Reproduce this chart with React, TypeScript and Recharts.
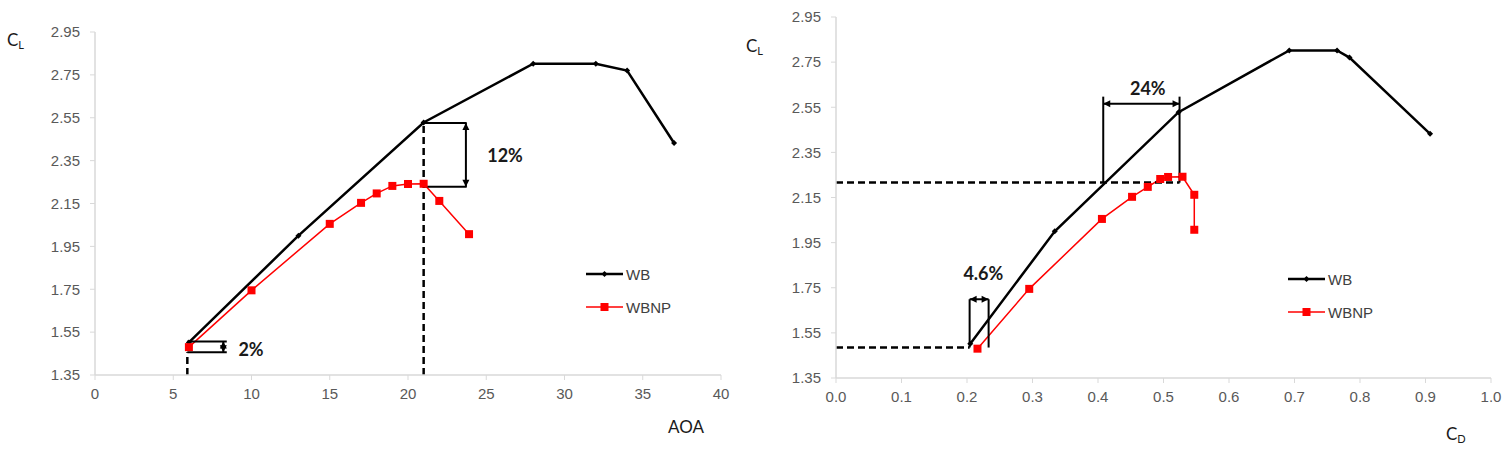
import React from "react";
import { LineChart, Line, XAxis, YAxis, ReferenceLine, ReferenceDot, Legend } from "recharts";

// lift coefficient axis (shared by both panels)
const clTicks = [1.35, 1.55, 1.75, 1.95, 2.15, 2.35, 2.55, 2.75, 2.95];
const aoaTicks = [0, 5, 10, 15, 20, 25, 30, 35, 40];
const cdTicks = [0, 0.1, 0.2, 0.3, 0.4, 0.5, 0.6, 0.7, 0.8, 0.9, 1.0];

// WB (wing-body)
const wbAoa = [6, 13, 21, 28, 32, 34, 37];
const wbCd = [0.205, 0.334, 0.523, 0.692, 0.765, 0.784, 0.907];
const wbCl = [1.502, 2.0, 2.528, 2.802, 2.802, 2.77, 2.432];

// WBNP
const wbnpAoa = [6, 10, 15, 17, 18, 19, 20, 21, 22, 23.9];
const wbnpCd = [0.216, 0.295, 0.406, 0.452, 0.476, 0.495, 0.507, 0.529, 0.547, 0.547];
const wbnpCl = [1.48, 1.745, 2.055, 2.153, 2.197, 2.232, 2.241, 2.242, 2.162, 2.007];

// annotations, in data units
const aoaStallGap = { x: 21, top: 2.525, bottom: 2.228, end: 23.75, arrowX: 23.7, labelX: 26.2, labelY: 2.376 };
const aoaLowGap = { x: 5.9, top: 1.506, bottom: 1.456, end: 8.42, arrowX: 8.2, labelX: 9.97, labelY: 1.471 };
const cdHighGap = { y: 2.216, left: 0.408, right: 0.5245, top: 2.597, arrowY: 2.565, labelX: 0.476, labelY: 2.635 };
const cdLowGap = { y: 1.485, left: 0.204, right: 0.233, top: 1.699, labelX: 0.225, labelY: 1.816 };

const FONT = "'Liberation Sans', Arial, sans-serif";
const CAL = "Lato, 'Open Sans', sans-serif";
const AXIS_GREY = "#d9d9d9";
const TICK_TEXT = "#595959";

const toRows = (xs: number[], ys: number[]) => xs.map((x, i) => ({ x, y: ys[i] }));

const DiamondDot = (props: any) => {
  const { cx, cy, index } = props;
  if (cx == null || cy == null) return <g key={index} />;
  const r = 3;
  return (
    <polygon
      key={index}
      points={`${cx},${cy - r} ${cx + r},${cy} ${cx},${cy + r} ${cx - r},${cy}`}
      fill="#000"
    />
  );
};

const SquareDot = (props: any) => {
  const { cx, cy, index } = props;
  if (cx == null || cy == null) return <g key={index} />;
  return <rect key={index} x={cx - 4} y={cy - 4} width={8} height={8} fill="#ff0000" />;
};

const DoubleArrow = (props: any) => {
  const { x1, y1, x2, y2 } = props;
  const a = Math.atan2(y2 - y1, x2 - x1);
  const L = 7;
  const W = 3.5;
  const head = (x: number, y: number, ang: number) => {
    const bx = x - L * Math.cos(ang);
    const by = y - L * Math.sin(ang);
    const px = W * Math.sin(ang);
    const py = -W * Math.cos(ang);
    return `${x},${y} ${bx + px},${by + py} ${bx - px},${by - py}`;
  };
  return (
    <g>
      <line x1={x1} y1={y1} x2={x2} y2={y2} stroke="#000" strokeWidth={2} />
      <polygon points={head(x2, y2, a)} fill="#000" />
      <polygon points={head(x1, y1, a + Math.PI)} fill="#000" />
    </g>
  );
};

const pctLabel = (text: string) => (props: any) => {
  const vb = props.viewBox || {};
  const cx = (vb.x ?? 0) + (vb.width ?? 0) / 2;
  const cy = (vb.y ?? 0) + (vb.height ?? 0) / 2;
  return (
    <text x={cx} y={cy} textAnchor="middle" dominantBaseline="central" fontFamily={CAL} fontWeight={700} fontSize={18} fill="#1a1a1a">
      {text}
    </text>
  );
};

const LegendBox = () => (
  <div style={{ fontFamily: FONT, fontSize: 15, color: "#404040" }}>
    <div style={{ display: "flex", alignItems: "center", height: 20 }}>
      <svg width={38} height={10}>
        <line x1={0} y1={5} x2={37} y2={5} stroke="#000" strokeWidth={2.5} />
        <polygon points="18.5,2 21.5,5 18.5,8 15.5,5" fill="#000" />
      </svg>
      <span style={{ marginLeft: 2 }}>WB</span>
    </div>
    <div style={{ display: "flex", alignItems: "center", height: 20, marginTop: 13 }}>
      <svg width={38} height={10}>
        <line x1={0} y1={5} x2={37} y2={5} stroke="#ff0000" strokeWidth={1.5} />
        <rect x={14.5} y={1} width={8} height={8} fill="#ff0000" />
      </svg>
      <span style={{ marginLeft: 2 }}>WBNP</span>
    </div>
  </div>
);

const tickStyle = { fill: TICK_TEXT, fontSize: 15, fontFamily: FONT };
const dashed = { stroke: "#000", strokeWidth: 2.5, strokeDasharray: "7 4" };
const solid = { stroke: "#000", strokeWidth: 2 };

function AoaPanel() {
  const wb = toRows(wbAoa, wbCl);
  const wbnp = toRows(wbnpAoa, wbnpCl);
  const g = aoaStallGap;
  const s = aoaLowGap;
  return (
    <LineChart width={740} height={452} margin={{ top: 32, right: 19, left: 0, bottom: 47 }}>
      <XAxis
        type="number"
        dataKey="x"
        domain={[0, 40]}
        ticks={aoaTicks}
        tick={tickStyle}
        tickSize={5}
        tickMargin={8}
        height={30}
        axisLine={{ stroke: AXIS_GREY, strokeWidth: 1.5 }}
        tickLine={{ stroke: AXIS_GREY }}
      />
      <YAxis
        type="number"
        dataKey="y"
        domain={[1.35, 2.95]}
        ticks={clTicks}
        tick={tickStyle}
        tickFormatter={(v: number) => v.toFixed(2)}
        tickSize={5}
        tickMargin={10}
        width={95}
        axisLine={{ stroke: AXIS_GREY, strokeWidth: 1.5 }}
        tickLine={{ stroke: AXIS_GREY }}
      />
      <Line data={wb} dataKey="y" name="WB" stroke="#000" strokeWidth={2.5} dot={DiamondDot} isAnimationActive={false} />
      <Line data={wbnp} dataKey="y" name="WBNP" stroke="#ff0000" strokeWidth={1.5} dot={SquareDot} isAnimationActive={false} />

      <ReferenceLine segment={[{ x: g.x, y: 1.35 }, { x: g.x, y: g.top }]} {...dashed} />
      <ReferenceLine segment={[{ x: g.x, y: g.top }, { x: g.end, y: g.top }]} {...solid} />
      <ReferenceLine segment={[{ x: g.x, y: g.bottom }, { x: g.end, y: g.bottom }]} {...solid} />
      <ReferenceLine segment={[{ x: g.arrowX, y: g.top }, { x: g.arrowX, y: g.bottom }]} shape={DoubleArrow} />
      <ReferenceDot x={g.labelX} y={g.labelY} r={1} fill="none" stroke="none" label={{ content: pctLabel("12%") }} />

      <ReferenceLine segment={[{ x: s.x, y: 1.35 }, { x: s.x, y: s.bottom }]} {...dashed} />
      <ReferenceLine segment={[{ x: s.x, y: s.top }, { x: s.end, y: s.top }]} {...solid} />
      <ReferenceLine segment={[{ x: s.x, y: s.bottom }, { x: s.end, y: s.bottom }]} {...solid} />
      <ReferenceLine segment={[{ x: s.arrowX, y: s.top }, { x: s.arrowX, y: s.bottom }]} shape={DoubleArrow} />
      <ReferenceDot x={s.labelX} y={s.labelY} r={1} fill="none" stroke="none" label={{ content: pctLabel("2%") }} />

      <Legend
        layout="vertical"
        align="center"
        verticalAlign="middle"
        content={() => <LegendBox />}
        wrapperStyle={{ left: 586, top: 264, width: "auto" }}
      />
    </LineChart>
  );
}

function CdPanel() {
  const wb = toRows(wbCd, wbCl);
  const wbnp = toRows(wbnpCd, wbnpCl);
  const g = cdHighGap;
  const s = cdLowGap;
  return (
    <LineChart width={769} height={452} margin={{ top: 17, right: 18, left: 0, bottom: 44 }}>
      <XAxis
        type="number"
        dataKey="x"
        domain={[0, 1]}
        ticks={cdTicks}
        tick={tickStyle}
        tickFormatter={(v: number) => v.toFixed(1)}
        tickSize={5}
        tickMargin={8}
        height={30}
        axisLine={{ stroke: AXIS_GREY, strokeWidth: 1.5 }}
        tickLine={{ stroke: AXIS_GREY }}
      />
      <YAxis
        type="number"
        dataKey="y"
        domain={[1.35, 2.95]}
        ticks={clTicks}
        tick={tickStyle}
        tickFormatter={(v: number) => v.toFixed(2)}
        tickSize={5}
        tickMargin={10}
        width={96}
        axisLine={{ stroke: AXIS_GREY, strokeWidth: 1.5 }}
        tickLine={{ stroke: AXIS_GREY }}
      />
      <Line data={wb} dataKey="y" name="WB" stroke="#000" strokeWidth={2.5} dot={DiamondDot} isAnimationActive={false} />
      <Line data={wbnp} dataKey="y" name="WBNP" stroke="#ff0000" strokeWidth={1.5} dot={SquareDot} isAnimationActive={false} />

      <ReferenceLine segment={[{ x: 0, y: g.y }, { x: g.right, y: g.y }]} {...dashed} />
      <ReferenceLine segment={[{ x: g.left, y: g.y }, { x: g.left, y: g.top }]} {...solid} />
      <ReferenceLine segment={[{ x: g.right, y: g.y }, { x: g.right, y: g.top }]} {...solid} />
      <ReferenceLine segment={[{ x: g.left, y: g.arrowY }, { x: g.right, y: g.arrowY }]} shape={DoubleArrow} />
      <ReferenceDot x={g.labelX} y={g.labelY} r={1} fill="none" stroke="none" label={{ content: pctLabel("24%") }} />

      <ReferenceLine segment={[{ x: 0, y: s.y }, { x: s.left, y: s.y }]} {...dashed} />
      <ReferenceLine segment={[{ x: s.left, y: s.y }, { x: s.left, y: s.top }]} {...solid} />
      <ReferenceLine segment={[{ x: s.right, y: s.y }, { x: s.right, y: s.top }]} {...solid} />
      <ReferenceLine segment={[{ x: s.left, y: s.top }, { x: s.right, y: s.top }]} shape={DoubleArrow} />
      <ReferenceDot x={s.labelX} y={s.labelY} r={1} fill="none" stroke="none" label={{ content: pctLabel("4.6%") }} />

      <Legend
        layout="vertical"
        align="center"
        verticalAlign="middle"
        content={() => <LegendBox />}
        wrapperStyle={{ left: 548, top: 269, width: "auto" }}
      />
    </LineChart>
  );
}

export default function App() {
  return (
    <div style={{ position: "absolute", left: 0, top: 0, width: 1509, height: 452, background: "#fff" }}>
      <div style={{ position: "absolute", left: 0, top: 0 }}>
        <AoaPanel />
      </div>
      <div style={{ position: "absolute", left: 740, top: 0 }}>
        <CdPanel />
      </div>
      <svg width={1509} height={452} style={{ position: "absolute", left: 0, top: 0, pointerEvents: "none" }}>
        <text x={7} y={46} fontFamily={CAL} fontSize={17} fill="#1a1a1a">
          C<tspan fontSize={11} dy={3}>L</tspan>
        </text>
        <text x={668} y={433} fontFamily={CAL} fontSize={17} fill="#1a1a1a">AOA</text>
        <text x={746} y={52} fontFamily={CAL} fontSize={17} fill="#1a1a1a">
          C<tspan fontSize={11} dy={3}>L</tspan>
        </text>
        <text x={1446} y={440} fontFamily={CAL} fontSize={17} fill="#1a1a1a">
          C<tspan fontSize={11} dy={3}>D</tspan>
        </text>
      </svg>
    </div>
  );
}
